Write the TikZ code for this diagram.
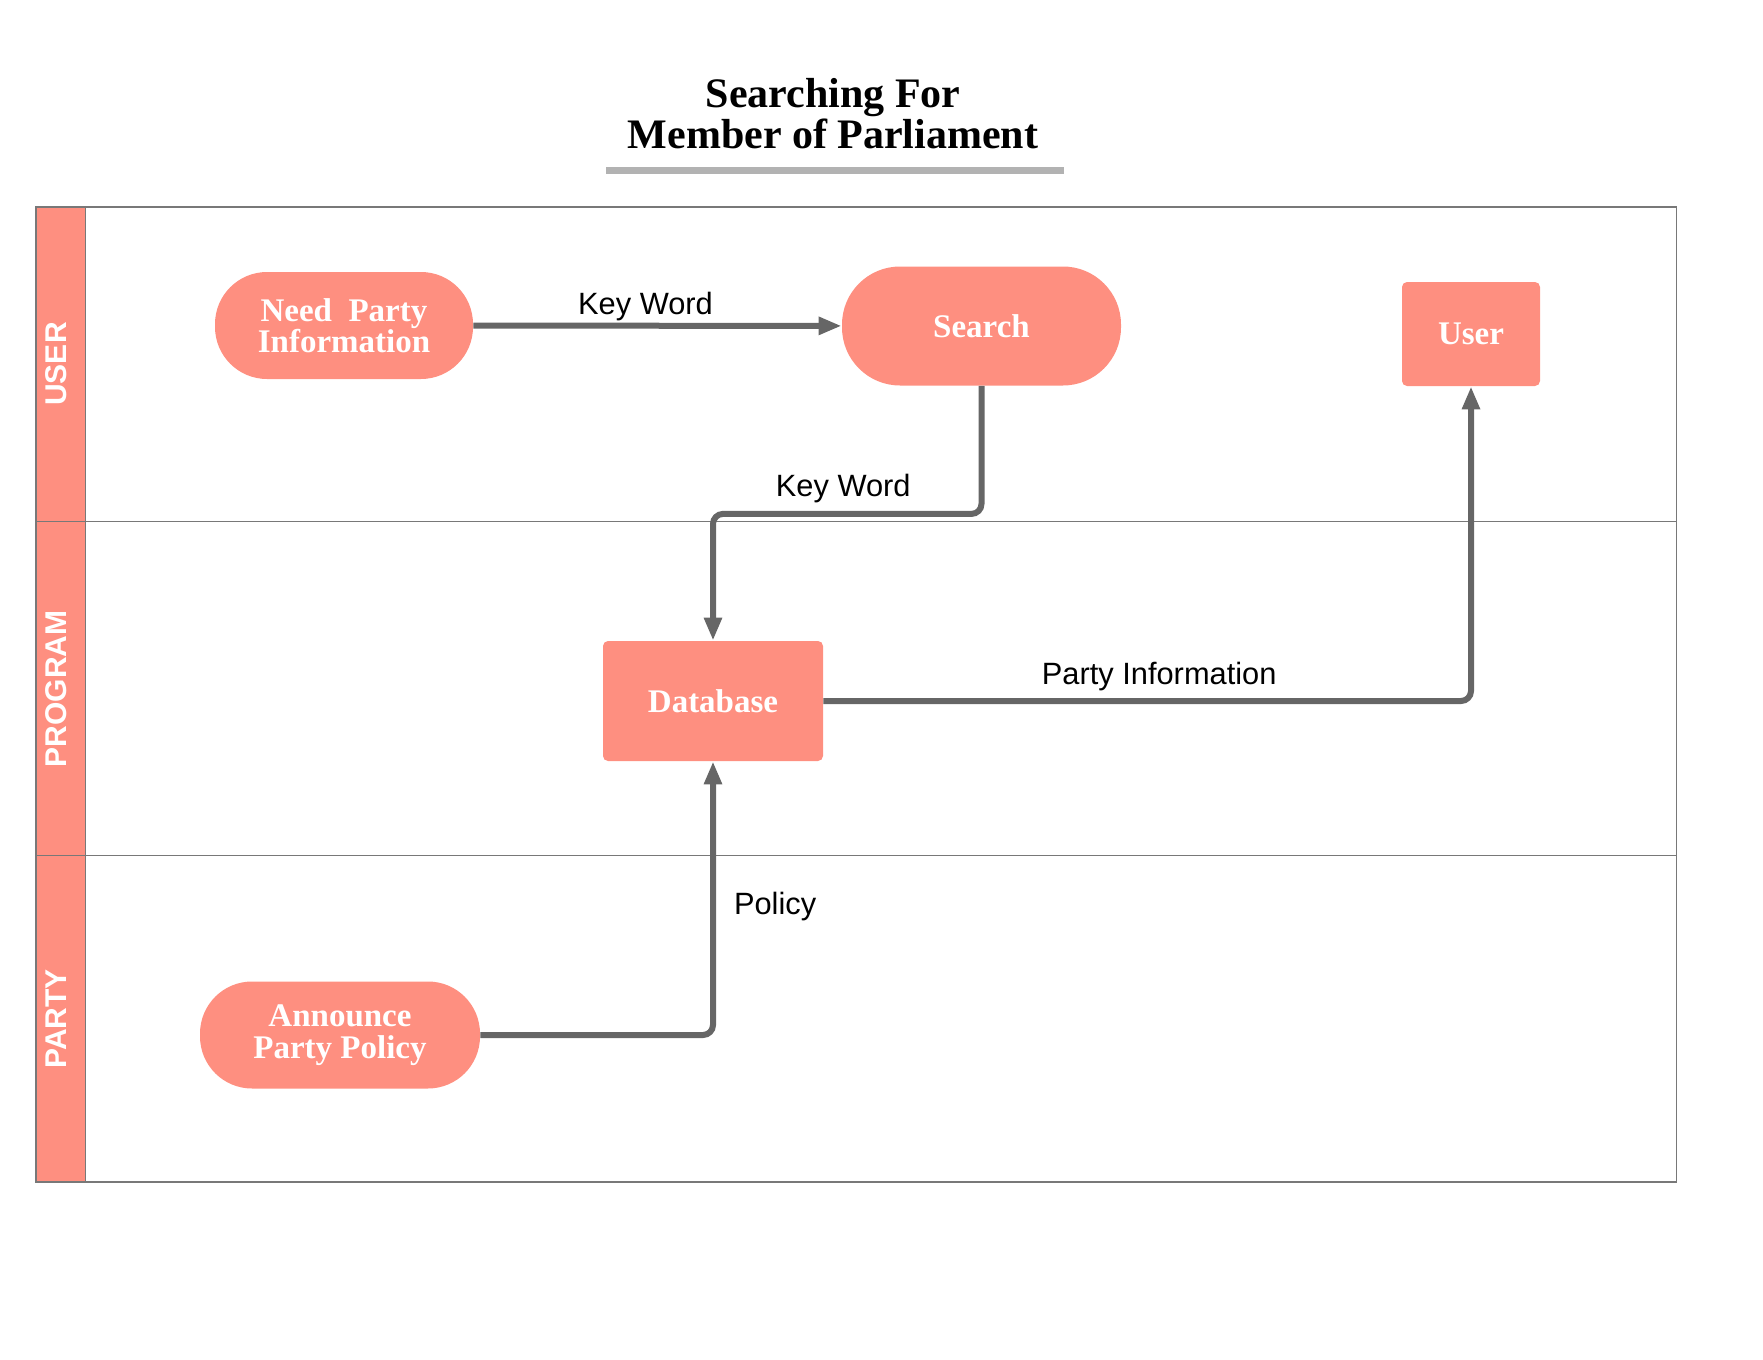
\documentclass[tikz,border=0pt]{standalone}
\usepackage{fontspec}
\setmainfont{Liberation Serif}
\setsansfont{Liberation Sans}
\usetikzlibrary{arrows.meta}
\definecolor{salmon}{RGB}{254,143,128}
\definecolor{flowgray}{RGB}{102,102,102}
\definecolor{lanegray}{RGB}{120,120,120}
\definecolor{rulegray}{RGB}{178,178,178}

\begin{document}
\begin{tikzpicture}[x=0.5pt,y=-0.5pt,>={Triangle[length=11.5pt,width=8.5pt]}]
        \tikzstyle{terminal}=[rectangle,rounded corners=26pt,fill=salmon,text=white,align=center,font=\bfseries\fontsize{16.5}{15.7}\selectfont,minimum height=53.5pt]
        \tikzstyle{process}=[rectangle,rounded corners=2.5pt,fill=salmon,text=white,align=center,font=\bfseries\fontsize{16.5}{15.7}\selectfont]
        \tikzstyle{flow}=[->,draw=flowgray,line width=3pt,rounded corners=5pt]
        \tikzstyle{flowlabel}=[inner sep=0pt,font=\sffamily\fontsize{15.4}{18}\selectfont,text=black]
        \tikzstyle{lanelabel}=[rotate=90,text=white,font=\sffamily\bfseries\fontsize{15}{18}\selectfont]
        \tikzstyle{lane}=[draw=lanegray,line width=0.75pt]

        \useasboundingbox (0,0) rectangle (1763,1360);

        % title
        \node (title) at (833,114) [align=center,font=\bfseries\fontsize{21}{20.5}\selectfont] {Searching For\\Member of Parliament};
        \draw [rulegray,line width=3.5pt] (606,170) -- (1064,170);

        % swimlanes
        \draw [lane,fill=salmon] (36,207) rectangle (85.5,1182);
        \draw [lane] (36,207) rectangle (1676.5,1182);
        \draw [lane] (36,521.7) -- (1676.5,521.7);
        \draw [lane] (36,855.7) -- (1676.5,855.7);
        \node [lanelabel] (useLane) at (56,364) {USER};
        \node [lanelabel] (programLane) at (56,688.7) {PROGRAM};
        \node [lanelabel] (partyLane) at (56,1019) {PARTY};

        \node [terminal, minimum width=129pt] (need) at (344,325.5) {Need~ Party\\Information}; %start
        \node [terminal, minimum width=139.5pt, minimum height=59.5pt, rounded corners=29pt] (search) at (981.5,326) {Search};
        \node [process, minimum width=69pt, minimum height=52pt] (user) at (1471,334) {User};
        \node [process, minimum width=110pt, minimum height=60pt] (db) at (713,701) {Database};
        \node [terminal, minimum width=140pt] (announce) at (340,1035) {Announce\\Party Policy}; %start

        \draw [flow] (need) -- (search)
            node [flowlabel,midway,above=0.8pt,xshift=-6pt] {Key Word};
        \draw [flow] (search.south) -- ++(0,128) -| (db.north)
            node [flowlabel,pos=0.25,above=4.1pt,xshift=-2pt] {Key Word};
        \draw [flow] (db.east) -| (user.south)
            node [flowlabel,pos=0.25,above=3.5pt,xshift=6pt] {Party Information};
        \draw [flow] (announce.east) -| (db.south)
            node [flowlabel,pos=0.75,right=9pt,yshift=-4.2pt] {Policy};
\end{tikzpicture}
\end{document}
